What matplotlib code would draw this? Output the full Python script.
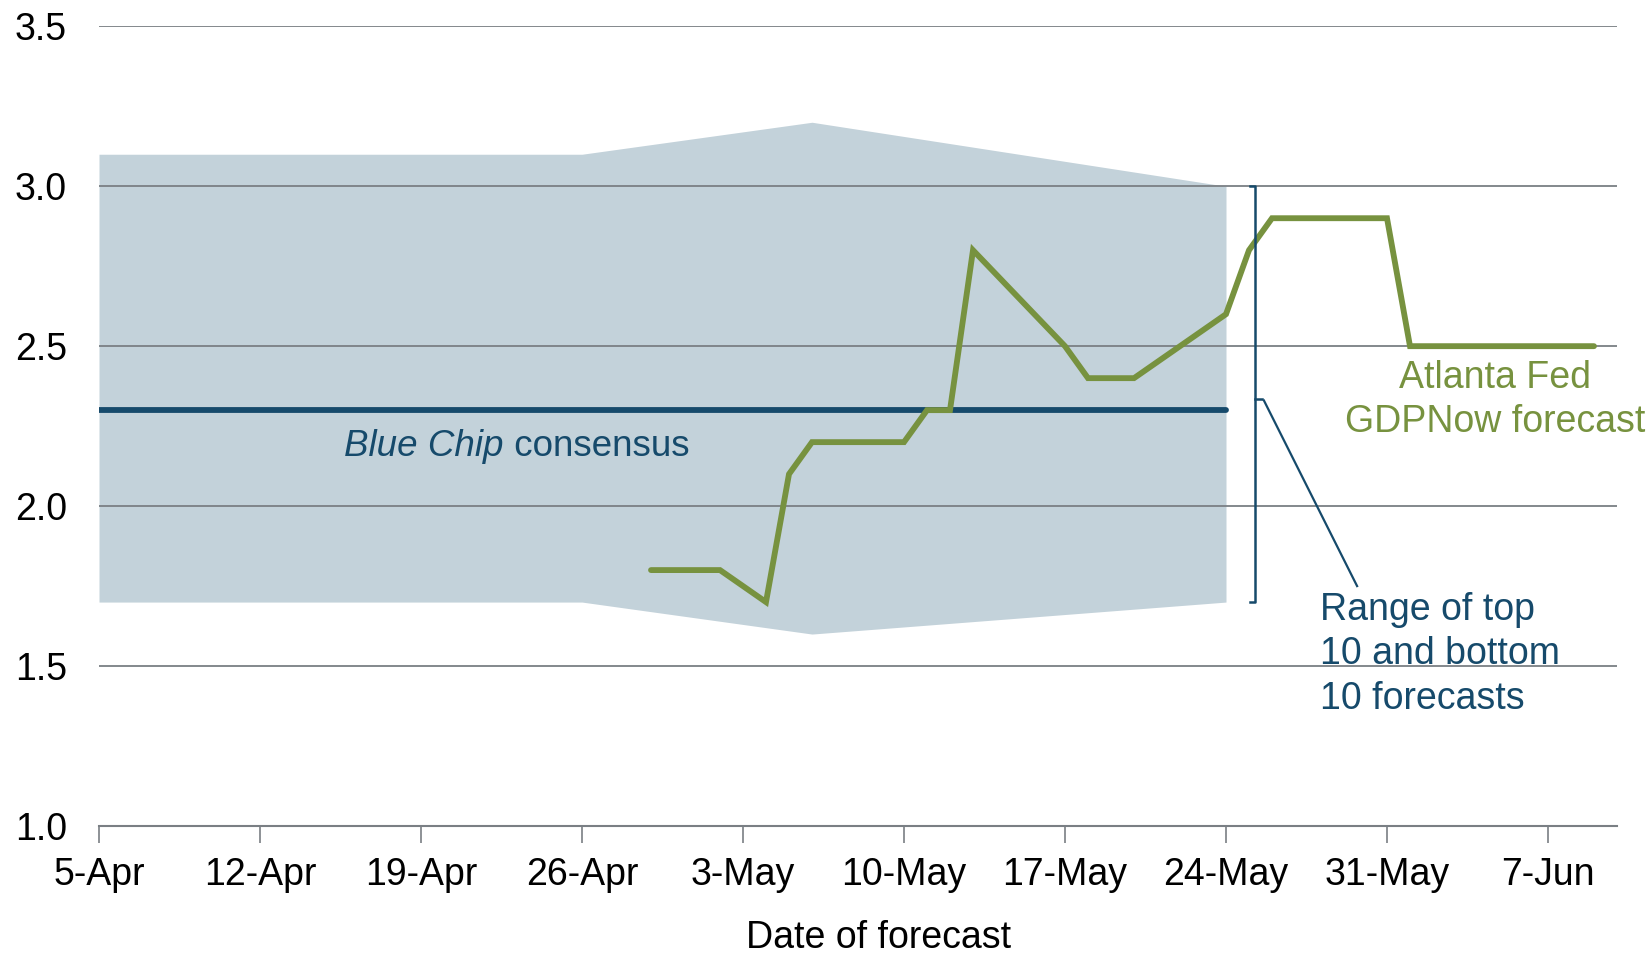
import pandas as pd
import matplotlib.pyplot as plt
import matplotlib.dates as mdates

plt.rcParams['font.family'] = ['Liberation Sans', 'DejaVu Sans']

verde = '#77923f'
azul = '#164a6b'
sombra = '#c3d2da'

# GDPNow
gdp_datas = pd.to_datetime(['2016-04-29', '2016-05-02', '2016-05-04', '2016-05-05', '2016-05-06',
                            '2016-05-10', '2016-05-11', '2016-05-12', '2016-05-13', '2016-05-17',
                            '2016-05-18', '2016-05-20', '2016-05-24', '2016-05-25', '2016-05-26',
                            '2016-05-31', '2016-06-01', '2016-06-09'])
gdp_valores = [1.8, 1.8, 1.7, 2.1, 2.2, 2.2, 2.3, 2.3, 2.8, 2.5, 2.4, 2.4, 2.6, 2.8, 2.9, 2.9, 2.5, 2.5]

# Blue Chip
bc_datas = pd.to_datetime(['2016-04-05', '2016-04-26', '2016-05-06', '2016-05-24'])
bc_consenso = [2.3, 2.3, 2.3, 2.3]
bc_topo = [3.1, 3.1, 3.2, 3.0]
bc_base = [1.7, 1.7, 1.6, 1.7]

ticks = pd.date_range('2016-04-05', '2016-06-07', freq='7D')
fs = 27

fig = plt.figure(figsize=(16.5, 9.56), dpi=100)
ax = fig.add_axes([0.06, 0.136, 0.92, 0.8365])

ax.fill_between(bc_datas, bc_base, bc_topo, color=sombra, lw=0, zorder=1)
for y in [1.5, 2.0, 2.5, 3.0, 3.5]:
    ax.axhline(y, color='#7a7f84', lw=1.3, zorder=2)
ax.plot(bc_datas, bc_consenso, color=azul, lw=4.2, solid_capstyle='round', zorder=3)
ax.plot(gdp_datas, gdp_valores, color=verde, lw=4.2, solid_capstyle='round', solid_joinstyle='miter', zorder=4)

# colchete da faixa
d0 = mdates.date2num(pd.Timestamp('2016-04-05'))
xb = d0 + 50.25
ax.plot([xb - 0.2, xb, xb, xb - 0.2], [3.0, 3.0, 1.7, 1.7], color=azul, lw=1.8, zorder=5)
ax.plot([xb, xb + 0.3], [2.335, 2.335], color=azul, lw=1.8, zorder=5)
ax.plot([xb + 0.4, d0 + 54.7], [2.33, 1.75], color=azul, lw=1.6, zorder=5)

ax.text(d0 + 53.1, 1.537, 'Range of top\n10 and bottom\n10 forecasts', color=azul,
        fontsize=fs, ha='left', va='center', linespacing=1.3)
ax.text(d0 + 60.7, 2.332, 'Atlanta Fed\nGDPNow forecast', color=verde,
        fontsize=fs, ha='center', va='center', linespacing=1.3)
ax.text(d0 + 17.6, 2.185, 'Blue Chip', color=azul, fontsize=26.5, style='italic',
        ha='right', va='center')
ax.text(d0 + 17.6, 2.185, ' consensus', color=azul, fontsize=26.5, ha='left', va='center')

ax.set_xlim(d0, d0 + 66)
ax.set_ylim(1.0, 3.5)
ax.set_yticks([1.0, 1.5, 2.0, 2.5, 3.0, 3.5])
ax.set_yticklabels(['1.0', '1.5', '2.0', '2.5', '3.0', '3.5'])
ax.set_xticks(ticks)
ax.set_xticklabels([f'{d.day}-{d.strftime("%b")}' for d in ticks])
ax.tick_params(axis='y', length=0, labelsize=fs, pad=23)
ax.tick_params(axis='x', direction='out', length=12, width=1.2, color='#7a7f84', labelsize=fs, pad=10)
for s in ['top', 'right', 'left']:
    ax.spines[s].set_visible(False)
ax.spines['bottom'].set_color('#7a7f84')
ax.spines['bottom'].set_linewidth(1.5)
ax.set_xlabel('Date of forecast', fontsize=fs, labelpad=20, x=0.5135)

fig.savefig('out.png', dpi=100)
